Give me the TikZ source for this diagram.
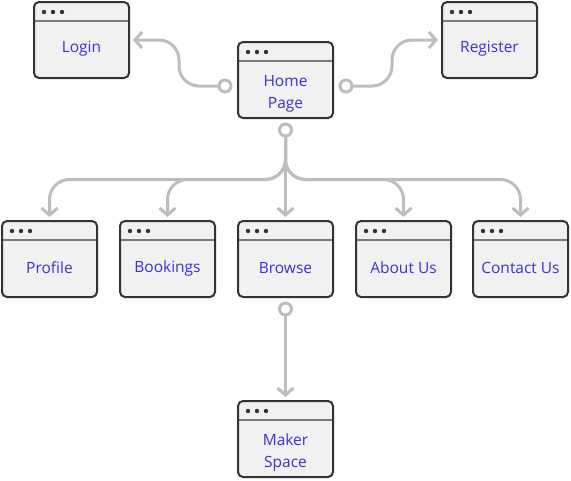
\documentclass[tikz,border=0pt]{standalone}
\usepackage{fontspec}
\setmainfont{Open Sans}
\usetikzlibrary{arrows.meta,calc}
\definecolor{boxc}{HTML}{333333}
\definecolor{boxfill}{HTML}{F1F1F1}
\definecolor{hdr}{HTML}{7A7A7A}
\definecolor{conc}{HTML}{BDBDBD}
\definecolor{txtc}{HTML}{3B30D6}
\tikzset{
  page/.style={draw=boxc, line width=2pt, fill=boxfill, rounded corners=5pt,
    minimum width=95pt, minimum height=76pt, inner sep=0pt,
    path picture={
      \draw[hdr, line width=2.5pt, sharp corners]
        ([yshift=-19pt]path picture bounding box.north west) --
        ([yshift=-19pt]path picture bounding box.north east);
      \fill[boxc] ([xshift=10pt,yshift=-10pt]path picture bounding box.north west) circle (2.2pt)
                  ([xshift=19pt,yshift=-10pt]path picture bounding box.north west) circle (2.2pt)
                  ([xshift=28pt,yshift=-10pt]path picture bounding box.north west) circle (2.2pt);
    }},
  lbl/.style={text=txtc, font=\fontsize{15.5pt}{22pt}\selectfont, align=center, inner sep=0pt},
  conn/.style={draw=conc, line width=3pt, rounded corners=20pt, line cap=round,
    -{Straight Barb[length=7pt,width=16pt,line width=3pt]}},
  knob/.style={draw=conc, line width=3pt, fill=white, circle, minimum size=12pt, inner sep=0pt},
}
\begin{document}
\begin{tikzpicture}[x=1pt,y=-1pt]
\useasboundingbox (0,0) rectangle (571,480);
% boxes
\node[page] (login) at (81.5,40) {};
\node[page] (home) at (285.5,80) {};
\node[page] (register) at (489.5,40) {};
\node[page] (profile) at (49.5,259) {};
\node[page] (bookings) at (167.5,259) {};
\node[page] (browse) at (285.5,259) {};
\node[page] (about) at (403.5,259) {};
\node[page] (contact) at (520.5,259) {};
\node[page] (maker) at (285.5,439) {};
% labels
\node[lbl] (loginT) at ([yshift=-9pt]login.center) {Login};
\node[lbl] (homeT) at ([yshift=-14pt]home.center) {Home\\Page};
\node[lbl] (registerT) at ([yshift=-9pt]register.center) {Register};
\node[lbl] (profileT) at ([yshift=-9pt]profile.center) {Profile};
\node[lbl] (bookingsT) at ([yshift=-9pt]bookings.center) {Bookings};
\node[lbl] (browseT) at ([yshift=-9pt]browse.center) {Browse};
\node[lbl] (aboutT) at ([yshift=-9pt]about.center) {About Us};
\node[lbl] (contactT) at ([yshift=-9pt]contact.center) {Contact Us};
\node[lbl] (makerT) at ([yshift=-13pt]maker.center) {Maker\\Space};
% knobs
\node[knob] (kl) at ($(home.west)+(-12,6)$) {};
\node[knob] (kr) at ($(home.east)+(12,6)$) {};
\node[knob] (kb) at ($(home.south)+(0,11)$) {};
\node[knob] (km) at ($(browse.south)+(0,11)$) {};
% connectors
\coordinate (lm) at (179,40);
\coordinate (rm) at (392,40);
\draw[conn] (kl.west) -| (lm) -- ($(login.east)+(3,0)$);
\draw[conn] (kr.east) -| (rm) -- ($(register.west)+(-3,0)$);
\coordinate (junc) at ($(kb.south)+(0,42)$);
\draw[conn] (kb.south) |- ($(profile.north |- junc)$) -- ($(profile.north)+(0,-3)$);
\draw[conn] (kb.south) |- ($(bookings.north |- junc)$) -- ($(bookings.north)+(0,-3)$);
\draw[conn] (kb.south) -- ($(browse.north)+(0,-3)$);
\draw[conn] (kb.south) |- ($(about.north |- junc)$) -- ($(about.north)+(0,-3)$);
\draw[conn] (kb.south) |- ($(contact.north |- junc)$) -- ($(contact.north)+(0,-3)$);
\draw[conn] (km.south) -- ($(maker.north)+(0,-3)$);
\end{tikzpicture}
\end{document}
